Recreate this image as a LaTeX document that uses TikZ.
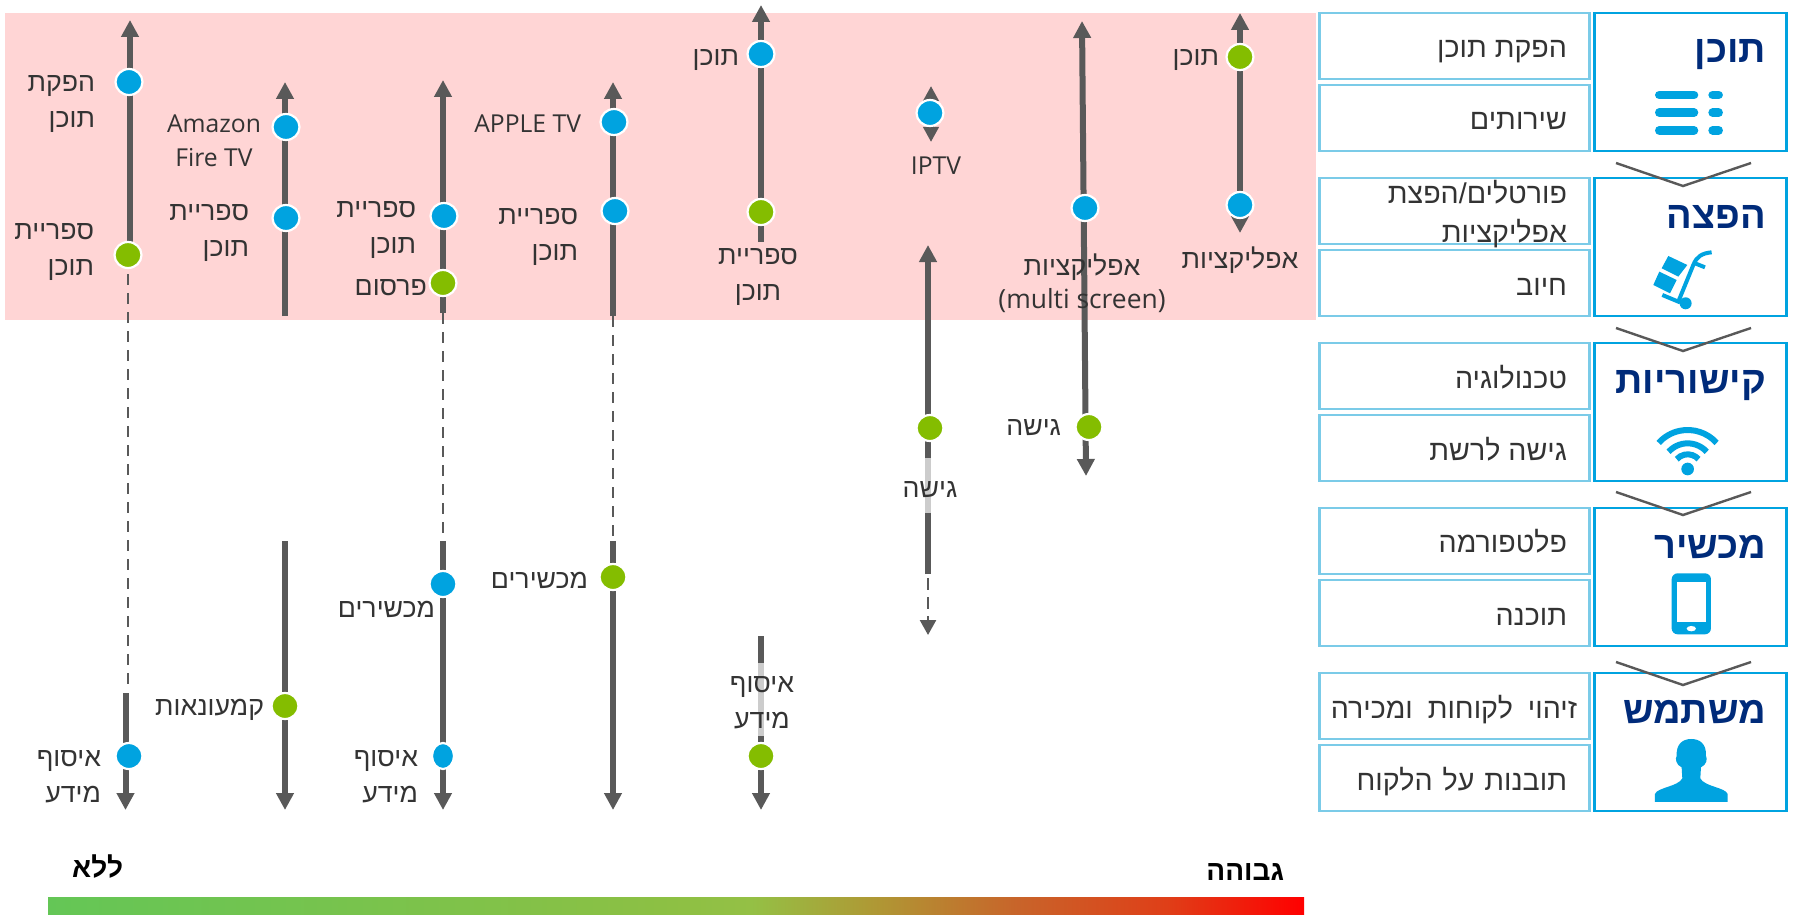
\documentclass[tikz,border=0pt]{standalone}
\usepackage{fontspec}
\setmainfont{Open Sans}
\newfontfamily\hebfont[Script=Hebrew]{Liberation Sans}
\newfontfamily\latfont{Open Sans}
\usetikzlibrary{arrows.meta,shapes.geometric}
\TeXXeTstate=1
\newcommand{\heb}[1]{\beginR #1\endR}
\definecolor{barA}{HTML}{64C656}
\definecolor{barB}{HTML}{8CC044}
\definecolor{barC}{HTML}{94C045}
\definecolor{barD}{HTML}{AE9A35}
\definecolor{barE}{HTML}{C8642A}
\definecolor{barF}{HTML}{DF3F18}
\definecolor{barG}{HTML}{FF0000}
\pgfdeclarehorizontalshading{heatbar}{100bp}{
  color(0bp)=(barA); color(25bp)=(barA); color(49.4bp)=(barB); color(53bp)=(barC); color(57.7bp)=(barD); color(63.6bp)=(barE); color(69.5bp)=(barF); color(75bp)=(barG); color(100bp)=(barG)}
\definecolor{pinkbg}{HTML}{FFD5D5}
\definecolor{dotblue}{HTML}{00A3E0}
\definecolor{dotgreen}{HTML}{84BD00}
\definecolor{linegrey}{HTML}{595959}
\definecolor{lightseg}{HTML}{CCCCCC}
\definecolor{boxline}{HTML}{7BCBE8}
\definecolor{navy}{HTML}{002B7A}
\definecolor{txt}{HTML}{333333}
\pgfdeclarelayer{back}
\pgfdeclarelayer{conn}
\pgfsetlayers{back,conn,main}
\tikzset{
  x=1pt,y=-1pt,
  every node/.style={inner sep=0pt,outer sep=0pt},
  lab/.style={font=\hebfont\fontsize{26.7}{36}\selectfont,text=txt},
  labL/.style={lab,anchor=base east,align=right},
  labC/.style={lab,anchor=base,align=center},
  panel/.style={font=\hebfont\fontsize{28.6}{36}\selectfont,text=txt,anchor=base east},
  latin/.style={font=\latfont\fontsize{24.7}{33}\selectfont},
  title/.style={font=\hebfont\bfseries\fontsize{38}{44}\selectfont,text=navy,anchor=base east},
  scaletxt/.style={font=\hebfont\bfseries\fontsize{28}{30}\selectfont,text=black,anchor=base east},
  bdot/.style={ellipse,draw=white,line width=2.2pt,fill=dotblue,minimum width=27pt,minimum height=26pt},
  gdot/.style={ellipse,draw=white,line width=2.2pt,fill=dotgreen,minimum width=27pt,minimum height=26pt},
  thick line/.style={draw=linegrey,line width=6pt},
  arrowline/.style={thick line,-{Triangle[length=17pt,width=17pt]}},
  dashline/.style={draw=linegrey,line width=2.5pt,dash pattern=on 11pt off 8pt},
  lightline/.style={draw=lightseg,line width=6pt},
  smallbox/.style={draw=boxline,line width=2.2pt,fill=white,anchor=north west},
  bigbox/.style={draw=dotblue,line width=2.4pt,fill=white,anchor=north west},
  chev/.style={draw=linegrey,line width=2.4pt},
  icon/.style={fill=dotblue,draw=none},
}
\begin{document}
\begin{tikzpicture}
\useasboundingbox (0,0) rectangle (1793,915);
\begin{pgfonlayer}{back}
  \fill[pinkbg] (5,13) rectangle (1316,320);
  \shade[shading=heatbar] (48,897) rectangle (1304,915);
\end{pgfonlayer}

% right-hand panels
\foreach \nm/\ya in {a/13,b/85,c/178,d/250,e/343,f/415,g/508,h/580,i/673,j/745}{
  \node[smallbox,minimum width=270pt,minimum height=66pt] (box\nm) at (1319.5,\ya) {};
}
\foreach \nm/\ya in {t/13,u/178,v/343,w/508,y/673}{
  \node[bigbox,minimum width=192pt,minimum height=138pt] (big\nm) at (1594.5,\ya) {};
}
% chevrons
\foreach \nm/\ya/\yb in {p/163/186,q/328/351,r/492/515,s/662/685}{
  \coordinate (chl\nm) at (1616,\ya);
  \coordinate (cht\nm) at (1683,\yb);
  \coordinate (chr\nm) at (1751,\ya);
  \draw[chev] (chl\nm) -- (cht\nm) -- (chr\nm);
}
% panel titles
\node[title] (tt) at (1766,63) {\heb{תוכן}};
\node[title] (tu) at (1766,228) {\heb{הפצה}};
\node[title] (tv) at (1766,393) {\heb{קישוריות}};
\node[title] (tw) at (1766,558) {\heb{מכשיר}};
\node[title] (ty) at (1766,723) {\heb{משתמש}};
% panel rows
\node[panel] (ra) at (1567,58) {\heb{הפקת תוכן}};
\node[panel] (rb) at (1567,130) {\heb{שירותים}};
\node[panel] (rc1) at (1567,203) {\heb{פורטלים/הפצת}};
\node[panel] (rc2) at (1567,242) {\heb{אפליקציות}};
\node[panel] (rd) at (1567,295) {\heb{חיוב}};
\node[panel] (re) at (1567,388) {\heb{טכנולוגיה}};
\node[panel] (rf) at (1567,460) {\heb{גישה לרשת}};
\node[panel] (rg) at (1567,552) {\heb{פלטפורמה}};
\node[panel] (rh) at (1567,625) {\heb{תוכנה}};
\node[panel] (ri) at (1577,718) {\heb{זיהוי\hspace{7pt} לקוחות\hspace{7pt} ומכירה}};
\node[panel] (rj) at (1567,790) {\heb{תובנות\hspace{2pt} על\hspace{2pt} הלקוח}};

% icons
\begin{scope}[shift={(1300,0)},x=0.3333pt,y=-0.3333pt,line cap=round,line width=8.6pt,draw=dotblue]
  \foreach \yy in {285,338,391}{
    \draw (1078,\yy) -- (1182,\yy);
    \draw (1238,\yy) -- (1256,\yy);
  }
  \fill[icon] (1105,768) -- (1162,795) -- (1135,830) -- (1085,805) -- cycle;
  \fill[icon] (1078,815) -- (1130,840) -- (1110,880) -- (1060,855) -- cycle;
  \draw[line width=4pt,line cap=butt] (1235,757) .. controls (1205,760) and (1190,770) .. (1180,795) -- (1135,905) -- (1087,885);
  \draw[line width=4pt,line cap=butt] (1185,790) -- (1215,802);
  \fill[icon] (1157,910) circle[radius=18];
\end{scope}
\begin{scope}[shift={(1300,330)},x=0.3333pt,y=-0.3333pt,line width=6pt,draw=dotblue]
  \fill[icon] (1163,417) circle[radius=19];
  \draw ({1163+117*cos(42)},{417-117*sin(42)}) arc[start angle=-42,end angle=-138,radius=117];
  \draw ({1163+77*cos(42)},{417-77*sin(42)}) arc[start angle=-42,end angle=-138,radius=77];
  \draw ({1163+44*cos(42)},{417-44*sin(42)}) arc[start angle=-42,end angle=-138,radius=44];
  \fill[icon,rounded corners=6pt] (1115,730) rectangle (1233,913);
  \fill[white] (1132,755) rectangle (1218,877);
  \fill[white] (1174,896) ellipse[x radius=14,y radius=8];
\end{scope}
\begin{scope}[shift={(1300,650)},x=0.3333pt,y=-0.3333pt]
  \fill[icon] (1065,456) -- (1065,432) .. controls (1072,412) and (1135,410) .. (1147,385)
    -- (1145,352) .. controls (1128,345) and (1125,325) .. (1130,318)
    .. controls (1128,280) and (1150,267) .. (1174,267)
    .. controls (1198,267) and (1220,280) .. (1218,318)
    .. controls (1223,325) and (1220,345) .. (1203,352)
    -- (1201,385) .. controls (1213,410) and (1276,412) .. (1283,432) -- (1283,456) -- cycle;
\end{scope}

% ---- column end points
\coordinate (aT) at (130,20);  \coordinate (aM) at (130,255);
\coordinate (aD) at (128,255); \coordinate (aE) at (128,690);
\coordinate (aS) at (125.5,693); \coordinate (aB) at (125.5,810);
\coordinate (bT) at (285,82);  \coordinate (bM) at (285,316);
\coordinate (bS) at (285,541); \coordinate (bB) at (285,810);
\coordinate (cT) at (443,80);  \coordinate (cM) at (443,313);
\coordinate (cS) at (443,541); \coordinate (cB) at (443,810);
\coordinate (dT) at (613,82);  \coordinate (dM) at (613,316);
\coordinate (dS) at (613,541); \coordinate (dB) at (613,810);
\coordinate (eT) at (761,5);   \coordinate (eM) at (761,242);
\coordinate (eS) at (761,636); \coordinate (eB) at (761,810);
\coordinate (eLa) at (761,663); \coordinate (eLb) at (761,736);
\coordinate (fT) at (931,86);  \coordinate (fB) at (931,142);
\coordinate (gT) at (928,245); \coordinate (gM) at (928,574);
\coordinate (gLa) at (928,458); \coordinate (gLb) at (928,513);
\coordinate (gD) at (928,578); \coordinate (gE) at (928,635);
\coordinate (hT) at (1082,21); \coordinate (hB) at (1086,476);
\coordinate (iT) at (1240,13); \coordinate (iB) at (1240,233);

\begin{pgfonlayer}{conn}
  \draw[arrowline] (aM) -- (aT);
  \draw[dashline] (aD) -- (aE);
  \draw[arrowline] (aS) -- (aB);
  \draw[arrowline] (bM) -- (bT);
  \draw[arrowline] (bS) -- (bB);
  \draw[arrowline] (cM) -- (cT);
  \draw[dashline] (cM) -- (cS);
  \draw[arrowline] (cS) -- (cB);
  \draw[arrowline] (dM) -- (dT);
  \draw[dashline] (dM) -- (dS);
  \draw[arrowline] (dS) -- (dB);
  \draw[arrowline] (eM) -- (eT);
  \draw[arrowline] (eS) -- (eB);
  \draw[lightline] (eLa) -- (eLb);
  \draw[thick line,{Triangle[length=15pt,width=15pt]}-{Triangle[length=15pt,width=15pt]}] (fT) -- (fB);
  \draw[arrowline] (gM) -- (gT);
  \draw[lightline] (gLa) -- (gLb);
  \draw[draw=linegrey,line width=2.5pt,dash pattern=on 12pt off 7pt,-{Triangle[length=15pt,width=16pt]}] (gD) -- (gE);
  \draw[thick line,{Triangle[length=17pt,width=17pt]}-{Triangle[length=17pt,width=17pt]}] (hT) -- (hB);
  \draw[thick line,{Triangle[length=17pt,width=17pt]}-{Triangle[length=17pt,width=17pt]}] (iT) -- (iB);
\end{pgfonlayer}

% ---- dots
\node[bdot] (a1) at (129,82) {};
\node[gdot] (a2) at (128,255) {};
\node[bdot] (a3) at (129,756) {};
\node[bdot] (b1) at (286,127) {};
\node[bdot] (b2) at (286,218) {};
\node[gdot] (b3) at (285,706) {};
\node[bdot] (c1) at (444,216) {};
\node[gdot] (c2) at (443,283) {};
\node[bdot] (c3) at (443,584) {};
\node[bdot,minimum width=22pt] (c4) at (443,756) {};
\node[bdot] (d1) at (614,122) {};
\node[bdot] (d2) at (615,211) {};
\node[gdot] (d3) at (613,577) {};
\node[bdot] (e1) at (761,54) {};
\node[gdot] (e2) at (761,212) {};
\node[gdot] (e3) at (761,756) {};
\node[bdot] (f1) at (930,113) {};
\node[gdot] (g1) at (930,428) {};
\node[bdot] (h1) at (1085,208) {};
\node[gdot] (h2) at (1089,427) {};
\node[gdot] (i1) at (1240,57) {};
\node[bdot] (i2) at (1240,205) {};

% ---- labels
\node[labL] (la1) at (95,128) {\heb{הפקת}\\\heb{תוכן}};
\node[labL] (la2) at (94,275) {\heb{ספריית}\\\heb{תוכן}};
\node[labL] (la3) at (101,802) {\heb{איסוף}\\\heb{מידע}};
\node[labC,latin] (lb1) at (214,166) {Amazon\\Fire TV};
\node[labL] (lb2) at (249,256) {\heb{ספריית}\\\heb{תוכן}};
\node[labL] (lb3) at (264,715) {\heb{קמעונאות}};
\node[labL] (lc1) at (416,253) {\heb{ספריית}\\\heb{תוכן}};
\node[labL] (lc2) at (427,295) {\heb{פרסום}};
\node[labL] (lc3) at (435,617) {\heb{מכשירים}};
\node[labL] (lc4) at (418,802) {\heb{איסוף}\\\heb{מידע}};
\node[labL,latin] (ld1) at (581,133) {APPLE TV};
\node[labL] (ld2) at (578,260) {\heb{ספריית}\\\heb{תוכן}};
\node[labL] (ld3) at (588,588) {\heb{מכשירים}};
\node[labL] (le1) at (739,66) {\heb{תוכן}};
\node[labC] (le2) at (758,300) {\heb{ספריית}\\\heb{תוכן}};
\node[labC] (le3) at (762,728) {\heb{איסוף}\\\heb{מידע}};
\node[labC,latin] (lf1) at (936,175) {IPTV};
\node[labC] (lg1) at (930,497) {\heb{גישה}};
\node[labL] (lh1) at (1061,435) {\heb{גישה}};
\node[labC,font=\hebfont\fontsize{26.7}{33}\selectfont] (lh2) at (1082,308) {\heb{אפליקציות}\\{\latfont\fontsize{26.4}{33}\selectfont (multi screen)}};
\node[labL] (li1) at (1219,66) {\heb{תוכן}};
\node[labC] (li2) at (1240,268) {\heb{אפליקציות}};

% ---- scale
\node[scaletxt] (s1) at (123,877) {\heb{ללא}};
\node[scaletxt] (s2) at (1284,880) {\heb{גבוהה}};
\end{tikzpicture}
\end{document}
